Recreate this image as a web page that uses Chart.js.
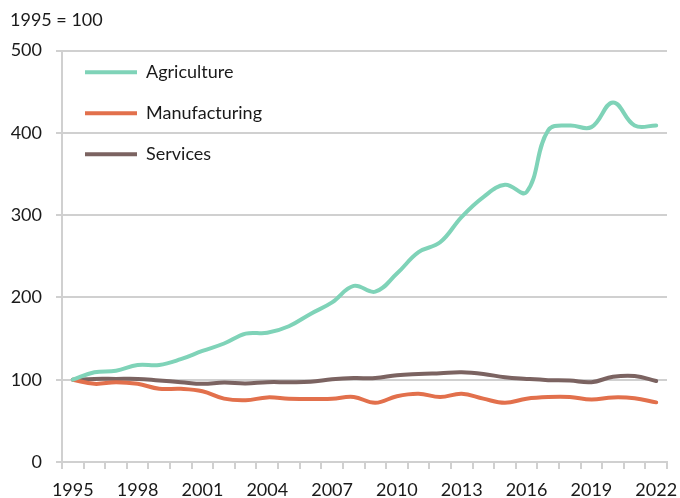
<!DOCTYPE html>
<html>
<head>
<meta charset="utf-8">
<script src="https://cdn.jsdelivr.net/npm/chart.js@4"></script>
<style>
  body { margin: 0; background: #fff; }
  #wrap { width: 680px; height: 498px; }
</style>
</head>
<body>
<div id="wrap"><canvas id="myChart"></canvas></div>
<script>
const years = [];
for (let y = 1995; y <= 2022; y++) years.push(String(y));

const agriculture = [100, 109, 111, 118, 118, 125, 135, 144, 156, 157, 165, 180, 194, 214, 207,
  229, 255, 267, 298, 322, 337, 328, 403, 409, 407, 437, 409, 409];
const manufacturing = [100, 95, 97, 95, 89, 89, 86, 77, 75, 78.5, 77, 76.5, 77, 79, 72,
  80, 83, 79, 83, 77, 72, 77, 79, 79, 76, 78.5, 77.5, 72.5];
const services = [100, 101, 101, 101, 99, 97, 95, 96.5, 95.5, 97, 97, 97.5, 100.5, 102, 102,
  105.5, 107, 108, 109, 107, 103, 101, 99.5, 99, 97, 103.5, 104.5, 98.5];

const yTicks = [0, 100, 200, 300, 400, 500];

const ctx = document.getElementById('myChart');
const font = { family: 'Lato, "Open Sans", sans-serif', size: 18, weight: 'normal' };

function line(label, data, color) {
  return {
    label: label,
    data: data,
    borderColor: color,
    backgroundColor: color,
    borderWidth: 4,
    borderCapStyle: 'round',
    borderJoinStyle: 'round',
    pointRadius: 0,
    tension: 0.4,
    fill: false
  };
}

new Chart(ctx, {
  type: 'line',
  data: {
    labels: years,
    datasets: [
      line('Agriculture', agriculture, '#7fd3b8'),
      line('Manufacturing', manufacturing, '#e2704c'),
      line('Services', services, '#7b6361')
    ]
  },
  options: {
    responsive: true,
    maintainAspectRatio: false,
    animation: false,
    layout: { padding: { left: 10, right: 13, top: 0, bottom: 0 } },
    plugins: {
      tooltip: { enabled: false },
      title: {
        display: true,
        text: '1995 = 100',
        align: 'start',
        color: '#1a1a1a',
        font: font,
        padding: { top: 9, bottom: 20 }
      },
      legend: {
        position: 'chartArea',
        align: 'start',
        // legend sits at canvas top in chartArea mode, push it down with an empty title
        title: { display: true, text: '', font: { size: 1 }, padding: { top: 39, bottom: 0 } },
        labels: {
          usePointStyle: true,
          pointStyle: 'line',
          pointStyleWidth: 52,
          padding: 23,
          color: '#1a1a1a',
          font: font
        }
      }
    },
    scales: {
      x: {
        offset: true,
        afterFit: function (axis) {
          axis.paddingLeft = 0;
          axis.paddingRight = 0;
          axis.height = 36;
        },
        grid: {
          offset: true,
          drawOnChartArea: false,
          color: '#d0d0d0',
          lineWidth: 2,
          tickLength: 7
        },
        border: { color: '#d0d0d0', width: 2 },
        ticks: {
          autoSkip: false,
          maxRotation: 0,
          color: '#1a1a1a',
          font: font,
          padding: 10,
          callback: function (val, i) { return i % 3 === 0 ? years[i] : ''; }
        }
      },
      y: {
        min: 0,
        max: 500,
        afterBuildTicks: function (axis) {
          axis.ticks = yTicks.map(v => ({ value: v }));
        },
        afterFit: function (axis) {
          axis.width = 52;
        },
        grid: { color: '#d0d0d0', lineWidth: 2, tickLength: 6 },
        border: { color: '#d0d0d0', width: 2 },
        ticks: { color: '#1a1a1a', font: font, padding: 14 }
      }
    }
  }
});
</script>
</body>
</html>
